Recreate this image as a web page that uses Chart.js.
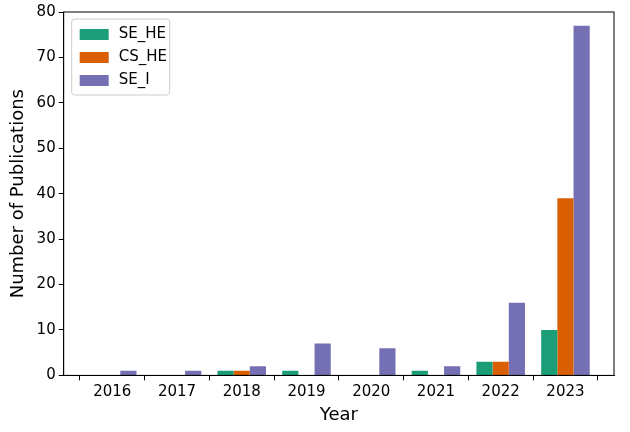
<!DOCTYPE html>
<html><head><script src="https://cdn.jsdelivr.net/npm/chart.js"></script>
<style>body{margin:0;background:#fff}#w{width:630px;height:432px}</style></head>
<body><div id="w"><canvas id="c"></canvas></div>
<script>
const years=[2016,2017,2018,2019,2020,2021,2022,2023];
const seHE=[0,0,1,1,0,1,3,10];
const csHE=[0,0,1,0,0,0,3,39];
const seI=[1,1,2,7,6,2,16,77];
const names=['SE_HE','CS_HE','SE_I'];
const colors=['#1b9e77','#d95f02','#7570b3'];
const mk=(arr,i)=>({label:names[i],data:years.map((y,k)=>({x:y,y:arr[k]})),backgroundColor:colors[i],categoryPercentage:0.75,barPercentage:1,borderWidth:0});
const legendIn={id:'li',afterDraw(ch){const c=ch.ctx,a=ch.chartArea;const x=a.left+8,y=a.top+7;c.save();c.fillStyle='rgba(255,255,255,0.8)';c.strokeStyle='#ccc';c.lineWidth=1;c.beginPath();c.roundRect(x,y,98,76,3);c.fill();c.stroke();c.font='15px "DejaVu Sans"';c.textBaseline='middle';names.forEach((n,i)=>{const yy=y+15+i*23;c.fillStyle=colors[i];c.fillRect(x+8,yy-5,29,11);c.fillStyle='#000';c.fillText(n,x+47,yy);});c.restore();}};
new Chart(document.getElementById('c'),{type:'bar',data:{datasets:[mk(seHE,0),mk(csHE,1),mk(seI,2)]},
options:{responsive:true,maintainAspectRatio:false,animation:false,layout:{padding:{left:4,right:16,top:6,bottom:2}},
plugins:{legend:{display:false},tooltip:{enabled:false}},
scales:{x:{type:'linear',min:2015.25,max:2023.75,offset:false,grid:{drawOnChartArea:false,tickColor:'#000',tickLength:5},border:{color:'#000'},
afterBuildTicks:s=>{s.ticks=years.map(v=>({value:v}));},
ticks:{color:'#000',font:{size:15,family:'DejaVu Sans'},callback:v=>String(v)},
title:{display:true,text:'Year',color:'#000',font:{size:18,family:'DejaVu Sans'},padding:{top:0}}},
y:{min:0,max:80,grid:{drawOnChartArea:false,tickColor:'#000',tickLength:5},border:{color:'#000'},ticks:{stepSize:10,color:'#000',font:{size:15,family:'DejaVu Sans'}},
title:{display:true,text:'Number of Publications',color:'#000',font:{size:18,family:'DejaVu Sans'}}}}},
plugins:[legendIn,{id:'box',afterDraw(ch){const a=ch.chartArea,c=ch.ctx;c.save();c.strokeStyle='#000';c.lineWidth=1;c.strokeRect(a.left,a.top,a.right-a.left,a.bottom-a.top);c.restore();}}]});
</script></body></html>
